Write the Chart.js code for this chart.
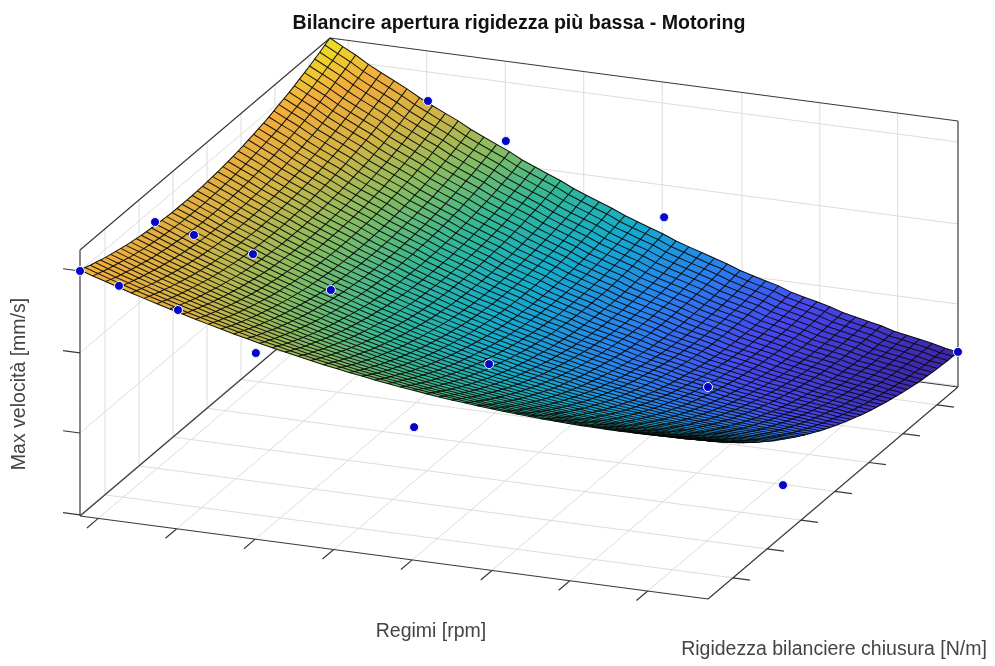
<!DOCTYPE html>
<html>
<head>
<meta charset="utf-8">
<style>
  html, body { margin: 0; padding: 0; background: #fff; }
  canvas { display: block; }
</style>
<script src="https://cdn.jsdelivr.net/npm/chart.js@4"></script>
</head>
<body>
<canvas id="chart" width="995" height="666"></canvas>
<script>
// no tick labels in the picture, so all three axes are read as 0..1 of the box
const tickRegimi = [0.029, 0.154, 0.279, 0.404, 0.529, 0.656, 0.78, 0.904];
const tickRigidezza = [0.1, 0.236, 0.372, 0.508, 0.644, 0.78, 0.916];
const tickVelocita = [0.004, 0.312, 0.613, 0.921];

// measured points
const puntiRegimi = [0, 0.156, 0.28, 0.532, 1, 0, 0.156, 0.28, 0.532, 1, 0.156, 0.28, 0.532, 1, 0, 0];
const puntiRigidezza = [0, 0, 0, 0, 0, 0.3, 0.3, 0.3, 0.3, 0.3, 1, 1, 1, 1, 0.156, 0.456];
const puntiVelocita = [0.921, 0.823, 0.7, 0.5, 0.797, 0.866, 0.794, 0.698, 0.498, 0.189, 0.812, 0.7, 0.492, 0.132, 0.741, 0.693];

// fitted surface, per mille of the box height: one row per stiffness step, one column per rpm step
const superficie = [
[925,909,894,879,864,850,836,823,810,797,785,773,761,750,739,728,718,709,699,690,682,673,666,658,651,644,638,632,626,621,617,612,608,604,601,598,595,593,591,589,588,587,587,588,588,589,590,591,593,595],
[918,902,886,871,856,842,828,814,800,787,775,763,751,739,728,718,707,697,688,679,670,661,653,645,638,631,625,619,613,607,602,597,593,589,586,583,579,577,575,573,572,571,571,570,570,571,572,573,575,577],
[910,894,878,863,848,833,819,805,792,778,765,753,741,729,718,707,697,686,677,667,658,649,641,633,626,618,612,606,599,594,589,583,579,574,571,568,564,562,560,557,556,554,554,554,553,554,555,555,557,559],
[904,887,871,856,840,825,811,797,783,770,757,744,732,720,708,697,686,676,666,656,647,638,629,621,614,606,599,593,586,581,575,569,565,560,557,553,550,547,544,542,540,539,538,537,537,537,538,538,539,541],
[897,881,865,849,833,818,803,789,775,761,748,735,723,711,699,687,676,666,656,646,636,627,618,610,602,594,587,580,574,568,562,556,551,547,543,539,535,532,530,527,525,523,522,521,521,521,521,521,522,524],
[891,875,858,842,826,811,796,781,767,753,740,727,714,702,690,678,667,656,646,635,626,616,607,599,591,583,575,568,561,555,549,543,538,533,529,525,521,518,515,512,510,508,507,506,505,505,505,505,506,507],
[886,869,852,836,820,804,789,774,760,746,732,719,706,693,681,669,658,647,636,626,616,606,597,588,580,571,564,557,549,543,537,531,525,520,516,512,507,504,501,498,495,493,492,491,489,489,489,489,489,490],
[881,863,847,830,814,798,783,767,753,738,725,711,698,685,673,660,649,638,627,616,606,596,587,577,569,561,553,545,538,532,525,519,513,508,503,499,494,491,487,484,481,479,477,476,474,474,473,473,473,474],
[876,858,841,824,808,792,777,761,746,732,718,704,690,677,665,652,640,629,618,607,597,587,577,567,559,550,542,534,527,520,514,507,501,495,491,486,481,477,474,470,467,465,463,461,459,459,458,458,458,458],
[871,854,836,819,803,786,771,755,740,725,711,697,683,670,657,644,632,621,609,598,588,577,568,558,549,540,532,524,516,509,502,496,489,483,479,474,469,465,461,457,454,451,449,447,445,444,443,443,442,442],
[867,849,832,814,798,781,765,749,734,719,705,690,676,663,650,637,625,613,601,590,579,569,559,548,539,530,522,514,506,499,492,485,478,472,467,462,456,452,448,444,441,438,436,434,431,430,429,428,427,427],
[864,846,828,810,793,776,760,744,728,713,699,684,670,656,643,630,617,605,594,582,571,560,550,540,530,521,513,504,496,488,481,474,467,461,456,450,445,440,436,432,428,425,423,420,417,416,415,414,413,413],
[860,842,824,806,789,772,756,739,723,708,693,678,664,650,637,623,610,598,586,574,563,552,542,531,522,512,504,494,486,479,471,464,457,450,445,439,433,429,424,420,416,412,410,407,404,403,401,400,399,398],
[857,839,821,802,785,768,751,734,719,703,688,672,658,644,631,617,604,591,579,567,555,545,534,523,513,504,495,485,477,469,462,454,446,440,434,429,422,417,413,408,404,400,397,395,391,390,388,387,385,384],
[855,836,818,799,781,764,748,730,714,698,683,667,653,639,625,611,598,585,573,560,548,537,526,515,505,495,486,477,468,460,452,444,437,430,424,418,411,406,402,397,392,388,385,383,379,377,375,373,372,371],
[852,834,815,796,778,761,744,726,710,694,679,663,648,634,620,605,592,579,567,554,542,530,519,508,498,488,478,468,459,451,443,435,427,420,414,408,401,396,391,386,381,377,374,371,367,365,363,361,359,358],
[851,832,813,793,775,758,741,723,706,690,675,658,643,629,615,600,586,573,561,547,535,524,513,501,490,480,471,460,451,443,435,426,418,411,405,398,391,386,381,375,370,366,363,359,355,353,351,348,346,345],
[849,830,811,791,773,755,738,720,703,687,671,654,639,625,610,595,581,568,555,542,529,518,506,494,483,473,464,453,443,435,427,418,409,402,396,389,382,376,371,365,360,355,352,348,344,341,339,336,334,332],
[848,829,810,790,771,753,736,717,700,684,668,651,635,621,606,590,577,563,550,536,524,512,500,488,477,466,457,446,436,427,419,410,401,394,387,380,372,367,361,356,350,345,341,338,333,330,327,325,322,320],
[847,828,808,788,770,751,734,715,698,681,665,648,632,617,602,586,572,559,545,531,519,506,495,482,471,460,450,439,429,420,411,403,393,385,379,372,364,358,352,346,340,335,331,327,322,319,316,314,310,308],
[847,827,808,787,768,750,732,713,696,679,662,645,629,614,599,583,568,555,541,527,514,501,489,476,465,454,444,432,422,413,404,395,386,378,371,364,355,349,343,337,331,326,321,317,312,309,306,303,299,297],
[847,827,807,786,767,749,731,711,694,677,660,642,626,611,596,579,565,551,537,522,509,497,484,471,460,448,438,426,416,407,398,388,378,370,363,356,347,341,335,328,322,316,312,308,302,299,295,292,288,286],
[847,827,807,786,767,748,730,710,692,675,658,640,624,608,593,576,562,547,533,518,505,492,480,466,455,443,433,421,410,401,391,382,372,363,356,348,339,333,326,320,313,308,303,299,292,289,286,282,278,275],
[848,828,808,786,767,748,729,709,691,674,657,638,622,606,591,574,559,544,530,515,501,488,476,462,450,438,428,415,405,395,385,376,365,357,349,341,332,325,319,312,305,299,294,290,283,280,276,272,268,265],
[849,829,808,787,767,748,729,709,691,673,656,637,621,605,589,571,556,542,527,512,498,485,472,458,446,434,423,410,400,390,380,370,359,350,343,335,325,318,311,305,297,291,286,281,275,271,267,263,258,255],
[851,830,810,787,768,748,729,709,691,673,655,636,619,603,587,569,554,539,525,509,495,482,469,454,442,430,419,406,395,385,375,365,354,345,337,329,318,311,304,297,290,283,278,273,266,262,258,254,249,246],
[853,832,811,789,769,749,730,709,691,673,655,635,619,602,586,568,553,538,523,507,492,479,466,451,438,426,415,402,390,380,370,360,348,339,331,323,312,305,298,291,282,276,271,266,258,254,250,246,240,237],
[855,834,813,790,770,750,731,710,691,673,655,635,618,602,585,567,551,536,521,505,490,477,463,448,435,423,411,398,386,376,366,355,343,334,326,317,306,299,292,284,276,269,264,258,251,246,242,237,232,228],
[858,836,815,792,772,752,732,711,692,674,656,635,618,601,585,566,550,535,520,503,488,475,461,445,433,420,408,394,383,372,362,351,339,329,321,312,301,293,286,278,269,263,257,251,243,239,234,230,223,220],
[861,839,818,795,774,754,734,712,693,675,656,636,618,601,585,566,550,534,519,502,487,473,459,443,430,417,406,391,379,369,358,347,335,325,316,307,296,288,280,273,263,257,251,245,236,232,227,222,216,212],
[864,842,821,797,776,756,736,714,695,676,658,637,619,602,585,566,550,534,518,501,486,472,458,441,428,415,403,389,377,366,355,343,331,321,312,303,291,283,275,267,258,251,245,239,230,225,220,215,208,204],
[868,846,824,800,779,759,739,716,697,678,659,638,620,603,586,566,550,534,518,500,485,471,456,440,427,413,401,386,374,363,352,340,327,317,308,299,287,279,271,262,253,245,239,233,224,219,213,208,201,197],
[872,850,828,804,783,762,742,719,699,680,661,640,622,604,587,567,550,534,518,500,485,470,456,439,425,412,399,384,372,360,349,338,324,314,305,295,283,274,266,258,248,240,234,227,218,213,207,202,195,190],
[877,854,832,808,786,765,745,722,702,682,663,642,624,606,588,568,551,535,519,500,485,470,455,438,425,411,398,383,370,359,347,335,322,311,302,292,279,271,262,254,243,236,229,222,213,207,202,196,188,184],
[882,859,837,812,790,769,748,725,705,685,666,644,626,608,590,570,553,536,520,501,485,470,455,438,424,410,397,382,369,357,345,333,319,309,299,289,276,267,259,250,239,231,224,218,208,202,196,190,182,178],
[887,864,841,816,795,773,752,729,708,689,669,647,628,610,592,571,554,537,521,502,486,471,456,438,424,410,397,381,368,356,344,332,317,306,296,286,273,264,255,246,235,227,220,213,203,197,191,185,177,172],
[892,869,847,821,799,778,757,733,712,692,673,650,631,613,595,574,556,539,523,503,487,472,456,439,424,410,397,380,367,355,343,330,316,305,295,284,271,262,253,243,232,224,216,209,199,193,186,180,172,167],
[898,875,852,827,804,783,761,737,716,696,676,654,635,616,597,576,559,541,525,505,489,473,458,439,425,410,397,380,367,354,342,329,315,303,293,283,269,259,250,241,229,221,213,206,195,189,182,176,167,162],
[905,881,858,832,810,788,767,742,721,701,681,658,638,619,601,579,561,544,527,507,491,475,459,441,426,411,397,380,367,354,342,329,314,302,292,281,267,257,248,238,227,218,210,202,191,185,178,172,163,157],
[912,888,865,838,816,794,772,747,726,705,685,662,642,623,604,583,565,547,530,510,493,477,461,442,427,412,398,381,367,355,342,329,314,302,291,280,266,256,246,236,224,215,207,200,188,182,175,168,159,153],
[919,895,872,845,822,800,778,753,731,711,690,667,647,628,609,586,568,550,533,513,496,479,463,444,429,414,400,382,368,355,342,329,314,302,291,280,265,255,245,235,223,213,205,197,186,179,172,165,155,149],
[926,902,879,852,829,806,784,759,737,716,696,672,652,632,613,591,572,554,536,516,499,482,466,446,431,416,402,384,369,356,343,330,314,302,290,279,264,254,244,234,221,212,203,195,183,176,169,162,152,145],
[934,910,886,859,836,813,791,765,743,722,701,677,657,637,618,595,576,558,540,519,502,485,469,449,434,418,404,385,371,358,344,331,315,302,291,279,264,254,243,233,220,210,202,193,181,174,166,159,149,142],
[943,918,894,867,843,820,798,772,750,728,707,683,662,643,623,600,581,563,545,523,506,489,472,452,436,421,406,388,373,359,346,332,316,303,291,280,264,254,243,233,219,210,201,192,180,172,164,157,146,140],
[951,927,902,875,851,828,805,779,757,735,714,689,668,648,628,605,586,568,549,528,510,493,476,456,440,424,409,390,375,362,348,334,317,304,292,281,265,254,243,232,219,209,200,191,178,171,163,155,144,137],
[960,935,911,883,859,836,813,786,764,742,721,696,675,654,634,611,592,573,554,532,514,497,480,459,443,427,412,393,378,364,350,336,319,306,294,282,266,255,244,233,219,209,200,191,177,169,161,153,142,135],
[970,945,920,892,868,844,821,794,771,749,728,703,681,661,641,617,597,578,560,538,519,502,485,464,447,431,416,396,381,367,353,338,321,308,296,283,267,256,245,233,219,209,200,190,177,169,161,152,141,134],
[979,954,929,901,876,853,829,802,779,757,735,710,688,668,647,623,604,584,565,543,525,507,489,468,452,435,420,400,385,370,356,341,324,310,298,285,269,257,246,235,220,210,200,191,177,168,160,152,140,132],
[990,964,939,910,886,862,838,811,788,765,743,718,696,675,654,630,610,591,572,549,530,512,495,473,456,440,424,404,389,374,359,345,327,313,300,288,271,259,248,236,221,211,201,191,177,169,160,151,139,132],
[1000,974,949,920,895,871,847,820,796,774,752,726,704,683,662,637,617,597,578,555,536,518,500,479,462,445,429,409,393,378,363,348,330,316,303,291,273,261,250,238,223,212,202,192,178,169,160,151,139,131]
];

// MATLAB parula, the surface colour follows the height
const parula = [
  [0, 62, 38, 168], [0.14, 71, 72, 240], [0.25, 40, 130, 240], [0.375, 20, 172, 205],
  [0.5, 50, 184, 150], [0.625, 135, 188, 97], [0.75, 210, 180, 68], [0.875, 240, 172, 60], [1, 238, 226, 36]
];

function project(u, v, z) {
  return { x: 80 + 628 * u + 250 * v, y: 516 + 83 * u - 212 * v - 266 * z };
}

function colorFor(z) {
  const t = Math.max(0, Math.min(1, (z - 0.132) / 0.868));
  let k = 0;
  while (k < parula.length - 2 && t > parula[k + 1][0]) k++;
  const a = parula[k], b = parula[k + 1];
  const f = (t - a[0]) / (b[0] - a[0]);
  return "rgb(" + [1, 2, 3].map(function (c) { return Math.round(a[c] + (b[c] - a[c]) * f); }).join(",") + ")";
}

function segments(list) {
  const out = [];
  list.forEach(function (s) {
    out.push(project(s[0], s[1], s[2]), project(s[3], s[4], s[5]), { x: null, y: null });
  });
  return out;
}

const griglia = [];
tickRegimi.forEach(function (u) {
  griglia.push([u, 0, 0, u, 1, 0], [u, 1, 0, u, 1, 1]);
});
tickRigidezza.forEach(function (v) {
  griglia.push([0, v, 0, 1, v, 0], [0, v, 0, 0, v, 1]);
});
tickVelocita.forEach(function (z) {
  griglia.push([0, 0, z, 0, 1, z], [0, 1, z, 1, 1, z]);
});

const scatola = [
  [0, 0, 0, 1, 0, 0], [1, 0, 0, 1, 1, 0], [0, 0, 0, 0, 1, 0], [0, 1, 0, 1, 1, 0],
  [0, 0, 0, 0, 0, 1], [1, 1, 0, 1, 1, 1], [0, 0, 1, 0, 1, 1], [0, 1, 1, 1, 1, 1]
];
tickRegimi.forEach(function (u) { scatola.push([u, 0, 0, u, -0.045, 0]); });
tickRigidezza.forEach(function (v) { scatola.push([1, v, 0, 1.027, v, 0]); });
tickVelocita.forEach(function (z) { scatola.push([0, 0, z, -0.027, 0, z]); });

const surfacePlugin = {
  id: "surface",
  beforeDatasetDraw: function (chart, args) {
    if (args.index !== 0) return;
    const ctx = chart.ctx, sx = chart.scales.x, sy = chart.scales.y;
    const rows = superficie.length, cols = superficie[0].length;
    const corner = function (j, i) {
      const p = project(i / (cols - 1), j / (rows - 1), superficie[j][i] / 1000);
      return [sx.getPixelForValue(p.x), sy.getPixelForValue(p.y)];
    };
    ctx.save();
    // back to front so the near cells paint over the far ones
    for (let j = rows - 2; j >= 0; j--) {
      for (let i = 0; i < cols - 1; i++) {
        const a = corner(j, i), b = corner(j, i + 1), c = corner(j + 1, i + 1), d = corner(j + 1, i);
        const mean = (superficie[j][i] + superficie[j][i + 1] + superficie[j + 1][i] + superficie[j + 1][i + 1]) / 4000;
        const color = colorFor(mean);
        ctx.beginPath();
        ctx.moveTo(a[0], a[1]);
        ctx.lineTo(b[0], b[1]);
        ctx.lineTo(c[0], c[1]);
        ctx.lineTo(d[0], d[1]);
        ctx.closePath();
        ctx.fillStyle = color;
        ctx.strokeStyle = color;
        ctx.lineWidth = 0.5;
        ctx.fill();
        ctx.stroke();
      }
    }
    // mesh on top, whole lines in both directions
    ctx.lineWidth = 1.05;
    ctx.strokeStyle = "rgba(8,8,8,0.92)";
    ctx.lineJoin = "round";
    for (let j = 0; j < rows; j++) {
      ctx.beginPath();
      for (let i = 0; i < cols; i++) {
        const p = corner(j, i);
        if (i === 0) ctx.moveTo(p[0], p[1]); else ctx.lineTo(p[0], p[1]);
      }
      ctx.stroke();
    }
    for (let i = 0; i < cols; i++) {
      ctx.beginPath();
      for (let j = 0; j < rows; j++) {
        const p = corner(j, i);
        if (j === 0) ctx.moveTo(p[0], p[1]); else ctx.lineTo(p[0], p[1]);
      }
      ctx.stroke();
    }
    ctx.restore();
  }
};

const textPlugin = {
  id: "labels",
  afterDraw: function (chart) {
    const ctx = chart.ctx;
    ctx.save();
    ctx.textBaseline = "middle";
    ctx.textAlign = "center";
    ctx.fillStyle = "#111";
    ctx.font = "bold 19.6px 'Liberation Sans'";
    ctx.fillText("Bilancire apertura rigidezza più bassa - Motoring", 519, 24);
    ctx.fillStyle = "#444";
    ctx.font = "19.5px 'Liberation Sans'";
    ctx.fillText("Regimi [rpm]", 431, 632);
    ctx.fillText("Rigidezza bilanciere chiusura [N/m]", 834, 650);
    ctx.translate(20, 384);
    ctx.rotate(-Math.PI / 2);
    ctx.fillText("Max velocità [mm/s]", 0, 0);
    ctx.restore();
  }
};

new Chart(document.getElementById("chart"), {
  type: "scatter",
  data: {
    datasets: [
      {
        label: "Punti",
        data: puntiRegimi.map(function (u, i) { return project(u, puntiRigidezza[i], puntiVelocita[i]); }),
        pointRadius: 4.5,
        pointBackgroundColor: "#0505c8",
        pointBorderColor: "#f4f6ff",
        pointBorderWidth: 1
      },
      {
        label: "Scatola",
        data: segments(scatola),
        showLine: true,
        spanGaps: false,
        pointRadius: 0,
        borderColor: "#3a3a3a",
        borderWidth: 1.2
      },
      {
        label: "Griglia",
        data: segments(griglia),
        showLine: true,
        spanGaps: false,
        pointRadius: 0,
        borderColor: "#dcdcdc",
        borderWidth: 1
      }
    ]
  },
  options: {
    responsive: false,
    animation: false,
    layout: { padding: 0, autoPadding: false },
    plugins: { legend: { display: false }, tooltip: { enabled: false } },
    scales: {
      x: { type: "linear", min: 0, max: 995, display: false },
      y: { type: "linear", min: 0, max: 666, reverse: true, display: false }
    }
  },
  plugins: [surfacePlugin, textPlugin]
});
</script>
</body>
</html>
